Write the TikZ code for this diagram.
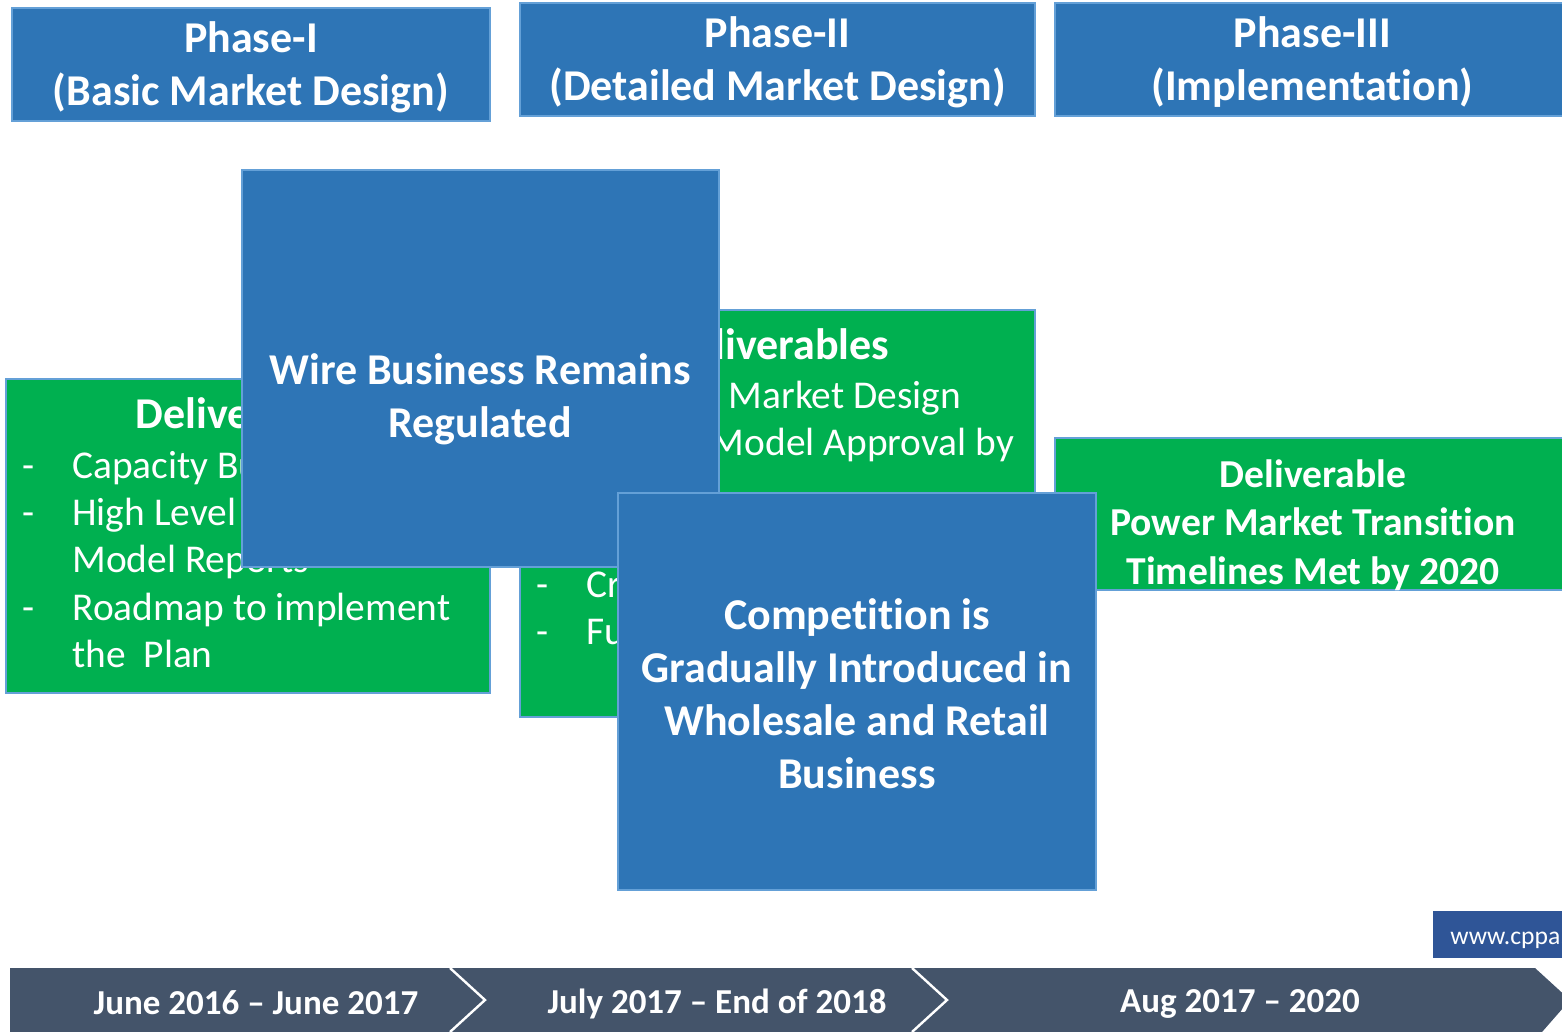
\documentclass[tikz,border=0pt]{standalone}
\usepackage{fontspec}
\setmainfont{Carlito}[Ligatures=NoCommon]
\usetikzlibrary{positioning}

\definecolor{phaseblue}{RGB}{46,117,182}
\definecolor{edgeblue}{RGB}{100,160,215}
\definecolor{delgreen}{RGB}{0,176,80}
\definecolor{slate}{RGB}{68,84,106}
\definecolor{webblue}{RGB}{47,85,151}

\tikzset{
  blk/.style 2 args={rectangle, draw=edgeblue, line width=0.6pt, inner sep=0pt,
    minimum width=#1*0.5pt, minimum height=#2*0.5pt},
  bluebox/.style={fill=phaseblue},
  greenbox/.style={fill=delgreen},
  txt/.style={text=white, align=center, inner sep=0pt},
  big/.style={font=\fontsize{22}{26.5}\selectfont\bfseries},
  title/.style={txt, anchor=base, font=\fontsize{22}{24}\selectfont\bfseries},
  item/.style={text=white, anchor=base west, inner sep=0pt, font=\fontsize{19.7}{23.5}\selectfont},
  when/.style={txt, font=\fontsize{17.5}{20}\selectfont\bfseries},
}

\begin{document}
\begin{tikzpicture}[x=0.5pt, y=-0.5pt]
\clip (0,0) rectangle (1562,1032);

% phase headers
\node[blk={478}{113}, bluebox] (ph1) at (251,64.5) {};
\node[blk={515}{113}, bluebox] (ph2) at (777.5,59.5) {};
\node[blk={515}{113}, bluebox] (ph3) at (1312.5,59.5) {};
\node[txt, big] (ph1t) at (251,67.5) {Phase-I\\(Basic Market Design)};
\node[txt, big] (ph2t) at (777.5,62.5) {Phase-II\\(Detailed Market Design)};
\node[txt, big] (ph3t) at (1312.5,62.5) {Phase-III\\(Implementation)};

% deliverables, phase I
\node[blk={484}{314}, greenbox] (del1) at (248,536) {};
\node[title] (del1t) at (248,428) {Deliverables};
\foreach \y [count=\i] in {478,525,620}
  \node[item] (del1d\i) at (22,\y) {-};
\node[item] (del1a) at (72,478) {Capacity Building};
\node[item] (del1b) at (72,525) {High Level};
\node[item] (del1c) at (72,572) {Model Reports};
\node[item] (del1d) at (72,620) {Roadmap to implement};
\node[item] (del1e) at (72,667) {the\ \ Plan};

% deliverables, phase II
\node[blk={515}{407}, greenbox] (del2) at (777.5,513.5) {};
\node[title] (del2t) at (777,359) {Deliverables};
\foreach \y [count=\i] in {597,644}
  \node[item] (del2d\i) at (536,\y) {-};
\node[item] (del2a) at (586,408) {Detailed Market Design};
\node[item] (del2b) at (586,455) {Market Model Approval by};
\node[item] (del2c) at (586,597) {Cr};
\node[item] (del2d) at (586,644) {Fu};

% deliverable, phase III
\node[blk={515}{152}, greenbox] (del3) at (1312.5,514) {};
\node[txt, font=\fontsize{19.8}{24.3}\selectfont\bfseries] (del3t) at (1313,525)
  {Deliverable\\Power Market Transition\\Timelines Met by 2020};

% the two policy boxes laid over the deliverables
\node[blk={477}{397}, bluebox] (wire) at (480.5,368.5) {};
\node[txt, big] (wiret) at (480,399) {Wire Business Remains\\Regulated};
\node[blk={478}{397}, bluebox] (comp) at (857,691.5) {};
\node[txt, big] (compt) at (857,693.5)
  {Competition is\\Gradually Introduced in\\Wholesale and Retail\\Business};

% web address
\node[rectangle, fill=webblue, minimum width=75pt, minimum height=23.5pt, inner sep=0pt] (web) at (1508,934.5) {};
\node[text=white, anchor=base west, inner sep=0pt, font=\fontsize{12.8}{14}\selectfont] (webt) at (1450,944) {www.cppa.gov.pk};

% timeline band
\fill[slate] (10,968) -- (1535,968) -- (1570,1000) -- (1535,1040) -- (10,1040) -- cycle;
\draw[white, line width=1.2pt] (450,968) -- (485,1000) -- (450,1032);
\draw[white, line width=1.2pt] (912,968) -- (947,1000) -- (912,1032);
\node[when] (t1) at (256,1003) {June 2016 -- June 2017};
\node[when] (t2) at (717,1004) {July 2017 -- End of 2018};
\node[when] (t3) at (1240,1004) {Aug 2017 -- 2020};
\end{tikzpicture}
\end{document}
